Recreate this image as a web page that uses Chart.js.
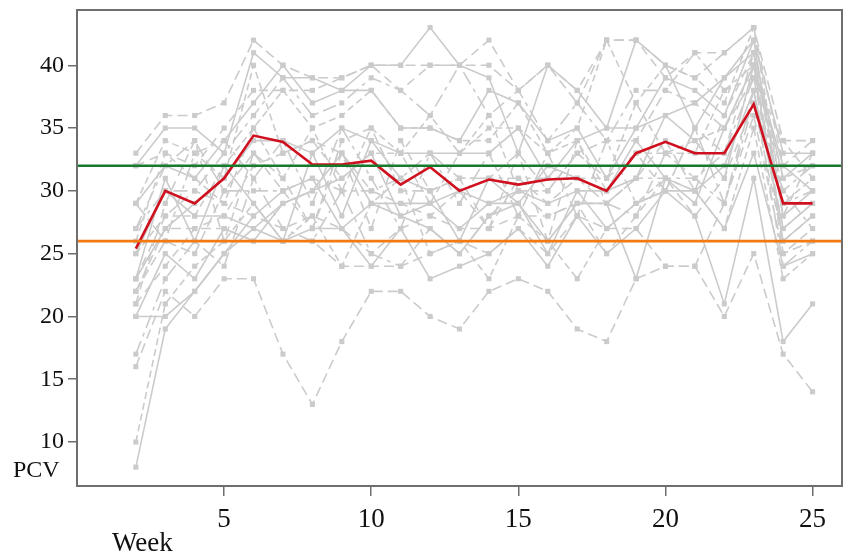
<!DOCTYPE html>
<html>
<head>
<meta charset="utf-8">
<script src="https://cdn.jsdelivr.net/npm/chart.js@4/dist/chart.umd.min.js"></script>
<style>
    html, body { margin: 0; padding: 0; background: #fff; }
    .wrap { position: relative; width: 843px; height: 557px; }
    .axis-note { position: absolute; font-family: 'Liberation Serif', 'Times New Roman', serif; color: #111; line-height: 1; }
</style>
</head>
<body>
<div class="wrap">
    <canvas id="pcvChart" width="843" height="557"></canvas>
    <div class="axis-note" style="left: 13px; top: 457px; font-size: 24px;">PCV</div>
    <div class="axis-note" style="left: 112px; top: 529px; font-size: 27px;">Week</div>
</div>
<script>
const weeks = [2, 3, 4, 5, 6, 7, 8, 9, 10, 11, 12, 13, 14, 15, 16, 17, 18, 19, 20, 21, 22, 23, 24, 25];

// individual animals, one value per week
const animal01 = [16, 22, 20, 23, 23, 17, 13, 18, 22, 22, 20, 19, 22, 23, 22, 19, 18, 23, 24, 24, 20, 25, 17, 14];
const animal02 = [8, 19, 22, 25, 28, 30, 31, 27, 24, 27, 23, 24, 25, 27, 24, 28, 25, 27, 30, 28, 21, 31, 18, 21];
const animal03 = [10, 21, 24, 26, 29, 26, 28, 24, 29, 31, 25, 26, 23, 28, 26, 23, 27, 29, 31, 30, 27, 35, 23, 25];
const animal04 = [17, 23, 26, 24, 31, 27, 26, 30, 25, 24, 27, 25, 28, 30, 28, 29, 29, 28, 33, 31, 29, 38, 24, 26];
const animal05 = [20, 25, 23, 27, 26, 29, 30, 31, 33, 28, 29, 27, 29, 29, 25, 30, 30, 31, 36, 34, 31, 40, 26, 28];
const animal06 = [21, 24, 27, 28, 32, 33, 34, 33, 30, 29, 28, 30, 27, 31, 29, 31, 31, 33, 30, 35, 33, 41, 25, 27];
const animal07 = [22, 26, 25, 30, 33, 31, 27, 34, 35, 30, 30, 31, 31, 33, 30, 33, 34, 34, 38, 37, 35, 39, 27, 29];
const animal08 = [23, 27, 29, 31, 34, 34, 33, 35, 34, 33, 33, 33, 33, 35, 31, 34, 35, 35, 39, 38, 36, 42, 28, 30];
const animal09 = [25, 28, 28, 32, 35, 38, 35, 36, 38, 35, 35, 34, 34, 37, 33, 35, 42, 37, 40, 39, 37, 43, 29, 31];
const animal10 = [27, 30, 30, 33, 36, 39, 36, 37, 39, 38, 36, 40, 36, 38, 34, 37, 34, 38, 38, 41, 38, 40, 30, 32];
const animal11 = [29, 32, 31, 34, 37, 40, 37, 38, 40, 40, 43, 40, 39, 33, 40, 38, 35, 42, 40, 35, 39, 41, 31, 33];
const animal12 = [32, 33, 32, 35, 38, 38, 38, 39, 40, 38, 40, 40, 42, 38, 40, 38, 42, 42, 39, 41, 41, 43, 32, 34];
const animal13 = [33, 36, 36, 37, 42, 40, 39, 39, 40, 40, 40, 40, 40, 38, 40, 37, 42, 42, 40, 39, 41, 43, 34, 34];
const animal14 = [32, 35, 35, 33, 41, 39, 39, 38, 38, 35, 35, 34, 38, 37, 34, 35, 31, 35, 36, 37, 39, 42, 33, 33];
const animal15 = [29, 34, 33, 31, 40, 33, 34, 31, 33, 33, 36, 33, 35, 35, 33, 34, 30, 33, 33, 34, 35, 40, 31, 32];
const animal16 = [27, 32, 34, 30, 30, 30, 31, 30, 30, 31, 33, 31, 31, 31, 31, 31, 29, 31, 31, 31, 33, 39, 29, 30];
const animal17 = [25, 30, 28, 28, 27, 29, 30, 33, 29, 29, 29, 30, 29, 30, 29, 30, 27, 29, 30, 30, 32, 38, 27, 29];
const animal18 = [23, 28, 30, 29, 28, 27, 28, 27, 25, 27, 28, 27, 27, 28, 28, 29, 25, 28, 31, 28, 31, 37, 26, 28];
const animal19 = [22, 27, 27, 27, 26, 26, 26, 24, 24, 24, 25, 26, 25, 27, 25, 28, 27, 27, 24, 24, 29, 36, 25, 26];
const animal20 = [20, 20, 22, 25, 27, 26, 27, 27, 29, 28, 27, 25, 28, 29, 26, 29, 29, 23, 31, 30, 27, 33, 24, 25];
const animal21 = [26, 33, 31, 29, 35, 31, 35, 30, 35, 33, 29, 33, 36, 30, 30, 33, 31, 37, 33, 33, 38, 39, 34, 31];
const animal22 = [29, 26, 33, 34, 31, 34, 29, 35, 31, 27, 33, 29, 33, 28, 33, 28, 34, 29, 30, 35, 29, 37, 30, 27];
const animal23 = [23, 31, 26, 32, 29, 26, 33, 28, 34, 31, 30, 26, 31, 29, 32, 31, 30, 34, 31, 29, 35, 40, 32, 30];
const animal24 = [21, 29, 34, 26, 33, 30, 27, 33, 27, 34, 30, 31, 27, 33, 26, 34, 29, 31, 34, 30, 36, 41, 28, 33];

const animals = [
    animal01, animal02, animal03, animal04, animal05, animal06, animal07, animal08,
    animal09, animal10, animal11, animal12, animal13, animal14, animal15, animal16,
    animal17, animal18, animal19, animal20, animal21, animal22, animal23, animal24
];

// herd mean (red) and the two reference levels
const meanPcv = [25.4, 30, 29, 31, 34.4, 33.9, 32.1, 32.1, 32.4, 30.5, 31.9, 30, 30.9, 30.5, 30.9, 31, 30, 33, 33.9, 33, 33, 36.9, 29, 29];
const upperRef = 32;
const lowerRef = 26;

const xTicks = [5, 10, 15, 20, 25];
const yTicks = [10, 15, 20, 25, 30, 35, 40];

const GRAY = '#cbcbcb';
const dashes = [[10, 5], [], [7, 4], [14, 5, 4, 5], [], [9, 6]];
const serif = "'Liberation Serif', 'Times New Roman', serif";

const toPoints = vals => weeks.map((w, i) => ({ x: w, y: vals[i] }));

const animalSets = animals.map((vals, i) => ({
    data: toPoints(vals),
    borderColor: GRAY,
    backgroundColor: GRAY,
    borderWidth: 1.6,
    borderDash: dashes[i % dashes.length],
    pointStyle: 'rect',
    pointRadius: 3.6,
    pointBorderWidth: 0,
    order: 3
}));

const refLine = (y, color) => ({
    data: [{ x: 0, y }, { x: 26, y }],
    borderColor: color,
    borderWidth: 2.6,
    pointRadius: 0,
    order: 1
});

const framePlugin = {
    id: 'frame',
    afterDraw(chart) {
        const { ctx, chartArea: a } = chart;
        ctx.save();
        ctx.strokeStyle = '#6e6e6e';
        ctx.lineWidth = 2;
        ctx.strokeRect(a.left, a.top, a.right - a.left, a.bottom - a.top);
        ctx.restore();
    }
};

const ctx = document.getElementById('pcvChart').getContext('2d');
new Chart(ctx, {
    type: 'line',
    data: {
        datasets: [
            ...animalSets,
            {
                data: toPoints(meanPcv),
                borderColor: '#d0101e',
                borderWidth: 2.6,
                pointRadius: 0,
                order: 2
            },
            refLine(upperRef, '#147a2c'),
            refLine(lowerRef, '#f37a12')
        ]
    },
    options: {
        responsive: false,
        animation: false,
        layout: { autoPadding: false, padding: { top: 10, right: 1, left: 0, bottom: 0 } },
        plugins: {
            legend: { display: false },
            tooltip: { enabled: false }
        },
        elements: { line: { tension: 0, fill: false } },
        scales: {
            x: {
                type: 'linear',
                min: 0,
                max: 26,
                afterBuildTicks: s => { s.ticks = xTicks.map(v => ({ value: v })); },
                afterFit: s => { s.height = 71; s.paddingLeft = 0; s.paddingRight = 0; },
                grid: { drawOnChartArea: false, drawTicks: true, tickLength: 10, color: '#6e6e6e', lineWidth: 1.5 },
                border: { display: false },
                ticks: { color: '#111', padding: 8, font: { family: serif, size: 27 } }
            },
            y: {
                min: 6.5,
                max: 44.4,
                afterBuildTicks: s => { s.ticks = yTicks.map(v => ({ value: v })); },
                afterFit: s => { s.width = 77; s.paddingTop = 0; s.paddingBottom = 0; },
                grid: { drawOnChartArea: false, drawTicks: true, tickLength: 9, color: '#6e6e6e', lineWidth: 1.5 },
                border: { display: false },
                ticks: { color: '#111', padding: 4, font: { family: serif, size: 24 } }
            }
        }
    },
    plugins: [framePlugin]
});
</script>
</body>
</html>
